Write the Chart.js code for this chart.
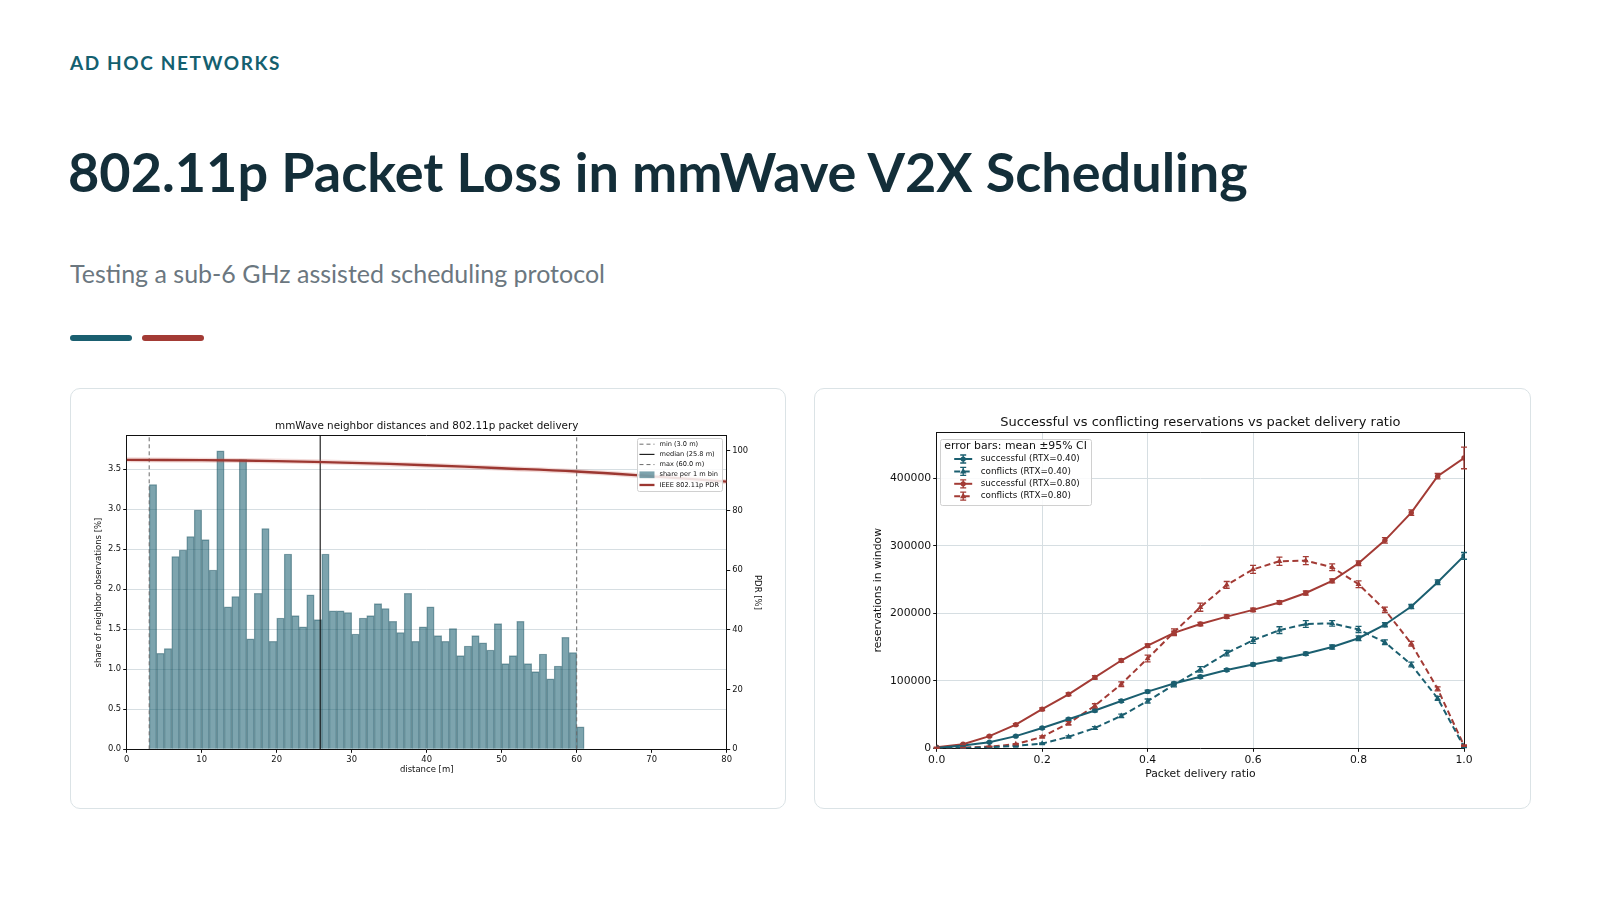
<!DOCTYPE html>
<html>
<head>
<meta charset="utf-8">
<title>802.11p Packet Loss in mmWave V2X Scheduling</title>
<script src="https://cdn.jsdelivr.net/npm/chart.js@4.4.1/dist/chart.umd.min.js"></script>
<style>
  html, body { margin: 0; padding: 0; background: #fff; }
  body { width: 1600px; height: 900px; position: relative; overflow: hidden; font-family: Lato, "Open Sans", sans-serif; }
  .kicker { position: absolute; left: 70px; top: 53px; font-size: 19px; line-height: 19px; font-weight: 700; letter-spacing: 1.6px; color: #14606f; }
  .title { position: absolute; left: 68px; top: 145px; font-size: 54px; line-height: 54px; font-weight: 700; color: #132e39; white-space: nowrap; }
  .subtitle { position: absolute; left: 70px; top: 261px; font-size: 25px; line-height: 25px; color: #6b7780; white-space: nowrap; }
  .accent { position: absolute; top: 335px; width: 62px; height: 6px; border-radius: 3px; }
  .card { position: absolute; top: 388px; height: 421px; border: 1px solid #dbe3e6; border-radius: 10px; box-sizing: border-box; background: #fff; }
  .card canvas { position: absolute; left: 0; top: 0; }
</style>
</head>
<body>
<div class="kicker">AD HOC NETWORKS</div>
<div class="title">802.11p Packet Loss in mmWave V2X Scheduling</div>
<div class="subtitle">Testing a sub-6 GHz assisted scheduling protocol</div>
<div class="accent" style="left:70px;background:#1a5f70;"></div>
<div class="accent" style="left:142px;background:#a33b35;"></div>

<div class="card" style="left:70px;width:716px;"><canvas id="histChart" width="714" height="419"></canvas></div>
<div class="card" style="left:814px;width:717px;"><canvas id="resChart" width="715" height="419"></canvas></div>

<script>
// ---- left chart: neighbor distance histogram (1 m bins, left edge) ----
const distanceBins = [3, 4, 5, 6, 7, 8, 9, 10, 11, 12, 13, 14, 15, 16, 17, 18, 19, 20, 21, 22, 23, 24, 25, 26, 27, 28, 29, 30,
  31, 32, 33, 34, 35, 36, 37, 38, 39, 40, 41, 42, 43, 44, 45, 46, 47, 48, 49, 50, 51, 52, 53, 54, 55, 56, 57, 58, 59, 60];
const sharePerBin = [3.31, 1.20, 1.26, 2.41, 2.49, 2.66, 2.99, 2.62, 2.24, 3.73, 1.78, 1.91, 3.62, 1.38, 1.95, 2.76, 1.35, 1.64,
  2.44, 1.67, 1.53, 1.93, 1.62, 2.44, 1.73, 1.73, 1.71, 1.44, 1.64, 1.67, 1.82, 1.76, 1.60, 1.46, 1.95, 1.35, 1.53, 1.78,
  1.42, 1.35, 1.51, 1.17, 1.29, 1.42, 1.33, 1.24, 1.57, 1.07, 1.17, 1.60, 1.07, 0.97, 1.19, 0.88, 1.04, 1.40, 1.21, 0.28];
const minDistance = 3.0;
const medianDistance = 25.8;
const maxDistance = 60.0;

// 802.11p packet delivery ratio vs distance
const pdrDistance = [0, 10, 20, 30, 40, 50, 60, 70, 80];
const pdrPercent = [96.9, 96.8, 96.5, 95.9, 95.1, 94.1, 93.0, 91.4, 89.6];

// axis ticks
const distanceTicks = [0, 10, 20, 30, 40, 50, 60, 70, 80];
const shareTicks = [0, 0.5, 1.0, 1.5, 2.0, 2.5, 3.0, 3.5];
const pdrAxisTicks = [0, 20, 40, 60, 80, 100];
const shareMax = 3.92;
const pdrMax = 105;

// ---- right chart: reservations vs packet delivery ratio ----
const pdrRatio = [0, 0.05, 0.1, 0.15, 0.2, 0.25, 0.3, 0.35, 0.4, 0.45, 0.5, 0.55, 0.6, 0.65, 0.7, 0.75, 0.8, 0.85, 0.9, 0.95, 1.0];
const successRtx40 = [500, 4000, 9000, 18000, 30000, 43000, 56000, 70000, 84000, 96000, 106000, 116000, 124000, 132000, 140000,
  150000, 163000, 183000, 210000, 246000, 285000];
const conflictRtx40 = [0, 500, 1500, 3500, 7000, 17000, 30000, 48000, 70000, 94000, 117000, 141000, 160000, 175000, 184000,
  185000, 176000, 157000, 124000, 74000, 2000];
const successRtx80 = [1500, 6000, 18000, 35000, 58000, 80000, 105000, 130000, 152000, 171000, 184000, 195000, 205000, 216000,
  230000, 248000, 274000, 308000, 349000, 403000, 430000];
const conflictRtx80 = [0, 1000, 2500, 6000, 17000, 37000, 63000, 95000, 133000, 172000, 209000, 242000, 265000, 277000, 278000,
  268000, 243000, 205000, 155000, 88000, 4000];
// 95% CI half widths
const successRtx40Ci = [300, 500, 800, 1000, 1500, 1500, 2000, 2000, 2000, 2000, 2000, 2000, 2000, 2500, 2500, 3000, 3500, 3000, 3000, 3500, 5000];
const conflictRtx40Ci = [0, 200, 400, 600, 1000, 1500, 2000, 2500, 3000, 3000, 4000, 4000, 4500, 5000, 5000, 4000, 4500, 3500, 3500, 3000, 1000];
const successRtx80Ci = [300, 600, 1000, 1500, 2000, 2000, 2500, 2500, 2500, 2500, 2500, 2500, 2500, 2500, 3000, 3000, 3500, 4000, 4000, 4000, 16000];
const conflictRtx80Ci = [0, 300, 500, 1000, 1500, 2500, 3000, 3500, 5000, 5000, 6000, 5000, 6000, 6000, 6000, 5000, 5000, 4000, 3500, 3000, 1000];

const ratioTicks = [0, 0.2, 0.4, 0.6, 0.8, 1.0];
const reservationTicks = [0, 100000, 200000, 300000, 400000];
const reservationMax = 468000;

const TEAL = '#1b5f70';
const RED = '#a33b35';
const GRID = '#d6dee2';
const MPL_FONT = 'DejaVu Sans';

// error bars drawn through the y scale
const errorBars = {
  id: 'errorBars',
  afterDatasetsDraw(chart) {
    const ctx = chart.ctx;
    const yScale = chart.scales.y;
    chart.data.datasets.forEach((ds, i) => {
      if (!ds.ci) return;
      const meta = chart.getDatasetMeta(i);
      ctx.save();
      ctx.strokeStyle = ds.borderColor;
      ctx.lineWidth = 1.3;
      ctx.setLineDash([]);
      meta.data.forEach((pt, j) => {
        const v = ds.data[j].y;
        const e = ds.ci[j];
        const top = yScale.getPixelForValue(v + e);
        const bot = yScale.getPixelForValue(v - e);
        ctx.beginPath();
        ctx.moveTo(pt.x, top); ctx.lineTo(pt.x, bot);
        ctx.moveTo(pt.x - 3, top); ctx.lineTo(pt.x + 3, top);
        ctx.moveTo(pt.x - 3, bot); ctx.lineTo(pt.x + 3, bot);
        ctx.stroke();
      });
      ctx.restore();
    });
  }
};

// matplotlib style legend box inside the plot (config passed in directly)
function boxLegend(o) {
  return {
    id: 'boxLegend',
    afterDraw(chart) {
      const ctx = chart.ctx;
      const area = chart.chartArea;
      const items = chart.data.datasets.filter(ds => !ds.noLegend);
      ctx.save();
      ctx.font = o.fontSize + 'px ' + MPL_FONT;
      let textW = 0;
      items.forEach(ds => { textW = Math.max(textW, ctx.measureText(ds.label).width); });
      let headW = 0;
      if (o.heading) {
        ctx.font = o.headSize + 'px ' + MPL_FONT;
        headW = ctx.measureText(o.heading).width;
      }
      const headH = o.heading ? o.headH : 0;
      const w = Math.max(o.textX + textW, o.heading ? headW + o.headX : 0) + o.padRight;
      const h = o.padTop + headH + items.length * o.rowH + o.padBottom;
      const x0 = o.corner === 'right' ? area.right - o.offX - w : area.left + o.offX;
      const y0 = area.top + o.offY;
      ctx.fillStyle = 'rgba(255,255,255,0.85)';
      ctx.strokeStyle = '#d0d0d0';
      ctx.lineWidth = 1;
      ctx.beginPath();
      ctx.roundRect(Math.round(x0) + 0.5, Math.round(y0) + 0.5, Math.round(w), Math.round(h), 2);
      ctx.fill();
      ctx.stroke();
      ctx.textBaseline = 'middle';
      ctx.textAlign = 'left';
      if (o.heading) {
        ctx.fillStyle = '#111';
        ctx.font = o.headSize + 'px ' + MPL_FONT;
        ctx.fillText(o.heading, x0 + o.headX, y0 + o.padTop + headH / 2);
      }
      items.forEach((ds, k) => {
        const cy = y0 + o.padTop + headH + o.rowH * (k + 0.5);
        const sx = x0 + o.sampleX;
        const sw = o.sampleW;
        if (ds.type === 'bar') {
          ctx.fillStyle = ds.backgroundColor;
          ctx.fillRect(sx, cy - o.rowH * 0.33, sw, o.rowH * 0.66);
        } else {
          ctx.strokeStyle = ds.borderColor;
          ctx.lineWidth = ds.borderWidth;
          ctx.setLineDash(ds.borderDash || []);
          ctx.beginPath();
          ctx.moveTo(sx, cy); ctx.lineTo(sx + sw, cy);
          ctx.stroke();
          ctx.setLineDash([]);
          if (ds.ci) {
            const mx = sx + sw / 2;
            ctx.lineWidth = 1.3;
            ctx.beginPath();
            ctx.moveTo(mx, cy - 4); ctx.lineTo(mx, cy + 4);
            ctx.moveTo(mx - 3, cy - 4); ctx.lineTo(mx + 3, cy - 4);
            ctx.moveTo(mx - 3, cy + 4); ctx.lineTo(mx + 3, cy + 4);
            ctx.stroke();
            ctx.fillStyle = ds.borderColor;
            ctx.beginPath();
            if (ds.pointStyle === 'triangle') {
              ctx.moveTo(mx, cy - 3.5); ctx.lineTo(mx + 3.2, cy + 2); ctx.lineTo(mx - 3.2, cy + 2);
              ctx.closePath();
            } else {
              ctx.arc(mx, cy, 2.6, 0, Math.PI * 2);
            }
            ctx.fill();
          }
        }
        ctx.fillStyle = '#111';
        ctx.font = o.fontSize + 'px ' + MPL_FONT;
        ctx.fillText(ds.label, x0 + o.textX, cy);
      });
      ctx.restore();
    }
  };
}

function mplFont(size) { return { family: MPL_FONT, size: size }; }
function fixedTicks(values) {
  return function (scale) { scale.ticks = values.map(v => ({ value: v })); };
}

// ---------------- chart 1 ----------------
const vline = (label, x, color, width, dash) => ({
  type: 'line', label: label, yAxisID: 'y',
  data: [{ x: x, y: 0 }, { x: x, y: shareMax }],
  borderColor: color, borderWidth: width, borderDash: dash, pointRadius: 0, order: 2
});

new Chart(document.getElementById('histChart'), {
  type: 'bar',
  data: {
    datasets: [
      vline(`min (${minDistance.toFixed(1)} m)`, minDistance, '#6b6b6b', 1, [4, 3]),
      vline(`median (${medianDistance.toFixed(1)} m)`, medianDistance, '#111', 1.1, []),
      vline(`max (${maxDistance.toFixed(1)} m)`, maxDistance, '#6b6b6b', 1, [4, 3]),
      {
        type: 'bar', label: 'share per 1 m bin', yAxisID: 'y',
        data: distanceBins.map((d, i) => ({ x: d + 0.5, y: sharePerBin[i] })),
        backgroundColor: 'rgba(27,95,112,0.57)',
        borderColor: 'rgba(18,70,84,0.45)',
        borderWidth: { top: 0.7, left: 0.7, right: 0.7, bottom: 0 },
        barPercentage: 1, categoryPercentage: 1, order: 3
      },
      {
        type: 'line', label: 'IEEE 802.11p PDR', yAxisID: 'y1',
        data: pdrDistance.map((d, i) => ({ x: d, y: pdrPercent[i] })),
        borderColor: '#9c3731', borderWidth: 2.3, tension: 0.4, pointRadius: 0, order: 1
      },
      {
        type: 'line', label: 'halo', noLegend: true, yAxisID: 'y1',
        data: pdrDistance.map((d, i) => ({ x: d, y: pdrPercent[i] })),
        borderColor: 'rgba(200,90,80,0.22)', borderWidth: 5, tension: 0.4, pointRadius: 0, order: 1.5
      }
    ]
  },
  options: {
    responsive: false,
    animation: false,
    layout: { padding: { left: 22.8, right: 22.5, top: 0, bottom: 33.5 } },
    plugins: {
      legend: { display: false },
      tooltip: { enabled: false },
      title: {
        display: true, fullSize: false,
        text: 'mmWave neighbor distances and 802.11p packet delivery',
        color: '#111', font: { family: MPL_FONT, size: 10.4, weight: 'normal', lineHeight: 1.2 },
        padding: { top: 30.7, bottom: 3.5 }
      }
    },
    scales: {
      x: {
        type: 'linear', min: 0, max: 80, offset: false,
        afterBuildTicks: fixedTicks(distanceTicks),
        ticks: { font: mplFont(8.4), color: '#111', padding: 2, maxRotation: 0, autoSkip: false },
        grid: { offset: false, drawOnChartArea: false, tickColor: '#111', tickLength: 3.5 },
        border: { color: '#111', width: 1 },
        title: { display: true, text: 'distance [m]', color: '#111', font: mplFont(8.5), padding: 0 },
        afterFit(s) { s.height = 25.2; }
      },
      xTop: {
        type: 'linear', position: 'top', min: 0, max: 80,
        ticks: { display: false }, grid: { display: false },
        border: { color: '#111', width: 1 },
        afterFit(s) { s.height = 0; }
      },
      y: {
        type: 'linear', position: 'left', min: 0, max: shareMax,
        afterBuildTicks: fixedTicks(shareTicks),
        ticks: { font: mplFont(8.4), color: '#111', padding: 2, autoSkip: false, callback: v => v.toFixed(1) },
        grid: { color: GRID, tickColor: '#111', tickLength: 3.5 },
        border: { color: '#111', width: 1 },
        title: { display: true, text: 'share of neighbor observations [%]', color: '#111', font: mplFont(8.5), padding: 0 },
        afterFit(s) { s.width = 32.9; }
      },
      y1: {
        type: 'linear', position: 'right', min: 0, max: pdrMax,
        afterBuildTicks: fixedTicks(pdrAxisTicks),
        ticks: { font: mplFont(8.4), color: '#111', padding: 2, autoSkip: false },
        grid: { drawOnChartArea: false, tickColor: '#111', tickLength: 3.5 },
        border: { color: '#111', width: 1 },
        title: { display: true, text: 'PDR [%]', color: '#111', font: mplFont(8.5), padding: 0 },
        afterFit(s) { s.width = 35.8; }
      }
    }
  },
  plugins: [boxLegend({
    corner: 'right', offX: 4.7, offY: 2.4, fontSize: 6.6, rowH: 10.2,
    padTop: 1, padBottom: 1, padRight: 3, sampleX: 2.5, sampleW: 15, textX: 22.5
  })]
});

// ---------------- chart 2 ----------------
const series = (label, values, ci, color, dashed) => ({
  label: label,
  data: pdrRatio.map((x, i) => ({ x: x, y: values[i] })),
  ci: ci,
  borderColor: color, backgroundColor: color,
  borderWidth: 2, borderDash: dashed ? [6, 3.5] : [],
  pointStyle: dashed ? 'triangle' : 'circle',
  pointRadius: dashed ? 3.4 : 2.7, pointBorderWidth: 0,
  tension: 0
});

new Chart(document.getElementById('resChart'), {
  type: 'line',
  data: {
    datasets: [
      series('successful (RTX=0.40)', successRtx40, successRtx40Ci, TEAL, false),
      series('conflicts (RTX=0.40)', conflictRtx40, conflictRtx40Ci, TEAL, true),
      series('successful (RTX=0.80)', successRtx80, successRtx80Ci, RED, false),
      series('conflicts (RTX=0.80)', conflictRtx80, conflictRtx80Ci, RED, true)
    ]
  },
  options: {
    responsive: false,
    animation: false,
    layout: { padding: { left: 56.6, right: 66, top: 0, bottom: 27.8 } },
    plugins: {
      legend: { display: false },
      tooltip: { enabled: false },
      title: {
        display: true, fullSize: false,
        text: 'Successful vs conflicting reservations vs packet delivery ratio',
        color: '#111', font: { family: MPL_FONT, size: 13, weight: 'normal', lineHeight: 1.2 },
        padding: { top: 26.2, bottom: 1.5 }
      }
    },
    scales: {
      x: {
        type: 'linear', min: 0, max: 1,
        afterBuildTicks: fixedTicks(ratioTicks),
        ticks: { font: mplFont(10.8), color: '#111', padding: 2, maxRotation: 0, autoSkip: false,
          callback: v => v.toFixed(1) },
        grid: { color: GRID, tickColor: '#111', tickLength: 3.5 },
        border: { color: '#111', width: 1 },
        title: { display: true, text: 'Packet delivery ratio', color: '#111', font: mplFont(10.8), padding: 0 },
        afterFit(s) { s.height = 31.9; }
      },
      xTop: {
        type: 'linear', position: 'top', min: 0, max: 1,
        ticks: { display: false }, grid: { display: false },
        border: { color: '#111', width: 1 },
        afterFit(s) { s.height = 0; }
      },
      y: {
        type: 'linear', position: 'left', min: 0, max: reservationMax,
        afterBuildTicks: fixedTicks(reservationTicks),
        ticks: { font: mplFont(10.8), color: '#111', padding: 2, autoSkip: false, callback: v => String(v) },
        grid: { color: GRID, tickColor: '#111', tickLength: 3.5 },
        border: { color: '#111', width: 1 },
        title: { display: true, text: 'reservations in window', color: '#111', font: mplFont(10.8), padding: 0 },
        afterFit(s) { s.width = 65.1; }
      },
      yRight: {
        type: 'linear', position: 'right', min: 0, max: reservationMax,
        ticks: { display: false }, grid: { display: false },
        border: { color: '#111', width: 1 },
        afterFit(s) { s.width = 0; }
      }
    }
  },
  plugins: [errorBars, boxLegend({
    corner: 'left', offX: 3, offY: 6.5, fontSize: 8.8, rowH: 12.4,
    heading: 'error bars: mean \u00b195% CI', headSize: 10.9, headH: 13, headX: 4.5,
    padTop: 1, padBottom: 2, padRight: 4, sampleX: 14.5, sampleW: 18, textX: 41
  })]
});
</script>
</body>
</html>
